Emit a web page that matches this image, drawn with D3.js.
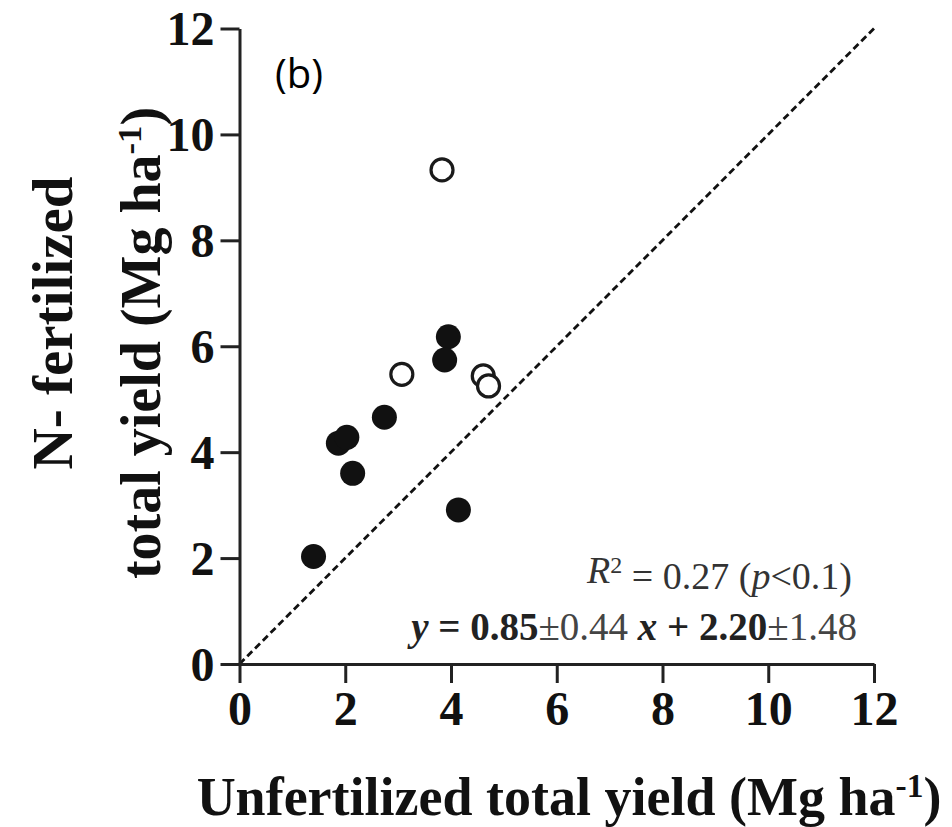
<!DOCTYPE html>
<html>
<head>
<meta charset="utf-8">
<script src="https://cdn.jsdelivr.net/npm/d3@7"></script>
<style>
  html, body { margin: 0; padding: 0; background: #fff; }
  svg { display: block; }
</style>
</head>
<body>
<svg id="chart" width="952" height="827"></svg>
<script>
// Unfertilized vs N-fertilized total yield (Mg ha-1)
const filledUnfert = [3.95, 3.88, 2.74, 1.87, 2.03, 2.14, 4.14, 1.40];
const filledFert   = [6.18, 5.74, 4.66, 4.17, 4.28, 3.60, 2.91, 2.03];
const openUnfert   = [3.83, 3.07, 4.61, 4.71];
const openFert     = [9.33, 5.47, 5.44, 5.25];
const tickValues   = [0, 2, 4, 6, 8, 10, 12];
const domainMax    = 12;

const svg = d3.select("#chart");
const serif = "'Liberation Serif', 'Times New Roman', serif";
const ink = "#222";

const x = d3.scaleLinear().domain([0, domainMax]).range([239.5, 874]);
const y = d3.scaleLinear().domain([0, domainMax]).range([664, 28.5]);

// 1:1 reference line
svg.append("line")
  .attr("x1", x(0)).attr("y1", y(0))
  .attr("x2", x(domainMax)).attr("y2", y(domainMax))
  .attr("stroke", "#111").attr("stroke-width", 2.8)
  .attr("stroke-dasharray", "7,4");

// Axes
const xAxis = d3.axisBottom(x).tickValues(tickValues).tickSize(19).tickSizeOuter(0).tickPadding(8);
const yAxis = d3.axisLeft(y).tickValues(tickValues).tickSize(19).tickSizeOuter(0).tickPadding(6);

const gx = svg.append("g").attr("transform", `translate(0,${y(0)})`).call(xAxis);
const gy = svg.append("g").attr("transform", `translate(${x(0)},0)`).call(yAxis);

[gx, gy].forEach(g => {
  g.select(".domain").attr("stroke", ink).attr("stroke-width", 3);
  g.selectAll(".tick line").attr("stroke", ink).attr("stroke-width", 3);
  g.selectAll(".tick text")
    .attr("fill", "#111")
    .attr("font-family", serif)
    .attr("font-weight", "bold")
    .attr("font-size", 48);
});
gx.selectAll(".tick text").attr("dy", "0.71em");
gy.selectAll(".tick text").attr("dy", "0.34em");

// Points
svg.append("g").selectAll("circle")
  .data(filledUnfert.map((v, i) => [v, filledFert[i]]))
  .join("circle")
  .attr("cx", d => x(d[0])).attr("cy", d => y(d[1]))
  .attr("r", 12.5).attr("fill", "#111");

svg.append("g").selectAll("circle")
  .data(openUnfert.map((v, i) => [v, openFert[i]]))
  .join("circle")
  .attr("cx", d => x(d[0])).attr("cy", d => y(d[1]))
  .attr("r", 11).attr("fill", "#fff")
  .attr("stroke", "#1a1a1a").attr("stroke-width", 3.2);

// Panel label
svg.append("text")
  .attr("x", 275).attr("y", 88)
  .attr("font-family", "'Open Sans', 'Noto Sans', sans-serif")
  .attr("font-size", 40).attr("fill", "#000")
  .text("(b)");

// Regression annotation
const ann1 = svg.append("text")
  .attr("x", 852).attr("y", 583)
  .attr("text-anchor", "end")
  .attr("font-family", serif).attr("font-size", 38).attr("fill", "#333");
ann1.append("tspan").attr("font-style", "italic").text("R");
ann1.append("tspan").attr("dy", "-0.4em").attr("font-size", 24).text("2");
ann1.append("tspan").attr("dy", "0.4em").text(" = 0.27 (");
ann1.append("tspan").attr("font-style", "italic").text("p");
ann1.append("tspan").text("<0.1)");

const ann2 = svg.append("text")
  .attr("x", 857).attr("y", 640)
  .attr("text-anchor", "end")
  .attr("font-family", serif).attr("font-size", 39).attr("fill", "#222");
ann2.append("tspan").attr("font-weight", "bold").attr("font-style", "italic").text("y");
ann2.append("tspan").attr("font-weight", "bold").text(" = 0.85");
ann2.append("tspan").attr("fill", "#444").text("\u00b10.44 ");
ann2.append("tspan").attr("font-weight", "bold").attr("font-style", "italic").text("x");
ann2.append("tspan").attr("font-weight", "bold").text(" + 2.20");
ann2.append("tspan").attr("fill", "#444").text("\u00b11.48");

// Axis titles
function unitLabel(sel, prefix) {
  sel.append("tspan").text(prefix + "(Mg ha");
  sel.append("tspan").attr("dy", "-0.55em").attr("font-size", "0.62em").text("-1");
  sel.append("tspan").attr("dy", "0.34em").text(")");
}

const xt = svg.append("text")
  .attr("x", 569).attr("y", 815)
  .attr("text-anchor", "middle")
  .attr("font-family", serif).attr("font-weight", "bold")
  .attr("font-size", 54).attr("fill", "#111");
unitLabel(xt, "Unfertilized total yield ");

const yt1 = svg.append("text")
  .attr("transform", "translate(72,323) rotate(-90)")
  .attr("text-anchor", "middle")
  .attr("font-family", serif).attr("font-weight", "bold")
  .attr("font-size", 57).attr("fill", "#111")
  .text("N- fertilized");

const yt2 = svg.append("text")
  .attr("transform", "translate(160,343) rotate(-90)")
  .attr("text-anchor", "middle")
  .attr("font-family", serif).attr("font-weight", "bold")
  .attr("font-size", 56).attr("fill", "#111");
unitLabel(yt2, "total yield ");
</script>
</body>
</html>
